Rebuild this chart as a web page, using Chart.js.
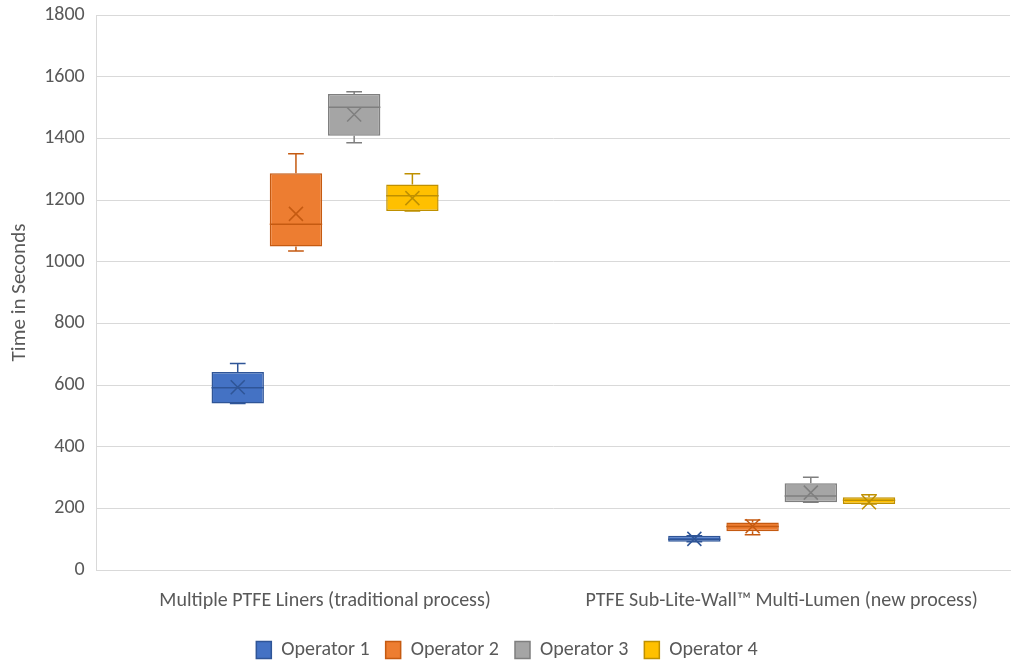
<!DOCTYPE html>
<html>
<head>
    <meta charset="utf-8">
    <title>Box plot</title>
    <style>
        html, body { margin: 0; padding: 0; background: #ffffff; }
        #wrap { width: 1016px; height: 662px; }
    </style>
    <script src="https://cdn.jsdelivr.net/npm/chart.js@4.4.0/dist/chart.umd.min.js"></script>
</head>
<body>
    <div id="wrap"><canvas id="box-chart" width="1016" height="662"></canvas></div>
    <script>
        // categories and series
        const categories = ['Multiple PTFE Liners (traditional process)', 'PTFE Sub-Lite-Wall\u2122 Multi-Lumen (new process)'];
        const operators = ['Operator 1', 'Operator 2', 'Operator 3', 'Operator 4'];

        // box plot stats, one row per operator, one value per category
        const whiskerLow = [[540, 92], [1035, 114], [1386, 220], [1164, 214]];
        const q1 = [[540, 92], [1049, 126], [1408, 220], [1164, 214]];
        const median = [[591, 100], [1121, 141], [1501, 240], [1214, 226]];
        const q3 = [[642, 111], [1287, 154], [1544, 281], [1250, 236]];
        const whiskerHigh = [[670, 111], [1350, 162], [1551, 301], [1285, 244]];
        const mean = [[593, 101], [1155, 142], [1477, 251], [1206, 220]];

        const yTicks = [0, 200, 400, 600, 800, 1000, 1200, 1400, 1600, 1800];

        const fillColors = ['#4472C4', '#ED7D31', '#A5A5A5', '#FFC000'];
        const lineColors = ['#2F5597', '#C55A11', '#7F7F7F', '#BF9000'];

        const textColor = '#595959';
        const fontFamily = 'Carlito, Lato, sans-serif';

        // whiskers, median line and mean X drawn on top of the floating bars
        const boxExtras = {
            id: 'boxExtras',
            afterDatasetsDraw(chart) {
                const ctx = chart.ctx;
                const y = chart.scales.y;
                chart.data.datasets.forEach((ds, i) => {
                    const meta = chart.getDatasetMeta(i);
                    meta.data.forEach((bar, j) => {
                        const x = bar.x;
                        const w = bar.width;
                        const cap = w * 0.15;
                        ctx.save();
                        ctx.strokeStyle = lineColors[i];
                        ctx.lineWidth = 1.5;
                        ctx.beginPath();
                        // upper whisker
                        ctx.moveTo(x, y.getPixelForValue(q3[i][j]));
                        ctx.lineTo(x, y.getPixelForValue(whiskerHigh[i][j]));
                        ctx.moveTo(x - cap, y.getPixelForValue(whiskerHigh[i][j]));
                        ctx.lineTo(x + cap, y.getPixelForValue(whiskerHigh[i][j]));
                        // lower whisker
                        ctx.moveTo(x, y.getPixelForValue(q1[i][j]));
                        ctx.lineTo(x, y.getPixelForValue(whiskerLow[i][j]));
                        ctx.moveTo(x - cap, y.getPixelForValue(whiskerLow[i][j]));
                        ctx.lineTo(x + cap, y.getPixelForValue(whiskerLow[i][j]));
                        // median
                        ctx.moveTo(x - w / 2, y.getPixelForValue(median[i][j]));
                        ctx.lineTo(x + w / 2, y.getPixelForValue(median[i][j]));
                        ctx.stroke();
                        // mean marker
                        const my = y.getPixelForValue(mean[i][j]);
                        const s = 7;
                        ctx.beginPath();
                        ctx.moveTo(x - s, my - s);
                        ctx.lineTo(x + s, my + s);
                        ctx.moveTo(x + s, my - s);
                        ctx.lineTo(x - s, my + s);
                        ctx.stroke();
                        ctx.restore();
                    });
                });
            }
        };

        const datasets = operators.map((name, i) => ({
            label: name,
            data: categories.map((c, j) => [q1[i][j], q3[i][j]]),
            backgroundColor: fillColors[i],
            borderColor: lineColors[i],
            borderWidth: 1.5,
            borderSkipped: false,
            categoryPercentage: 0.51,
            barPercentage: 0.9
        }));

        new Chart(document.getElementById('box-chart'), {
            type: 'bar',
            data: { labels: categories, datasets: datasets },
            plugins: [boxExtras],
            options: {
                responsive: false,
                animation: false,
                layout: { padding: { left: 4, right: 6, top: 0, bottom: -8 } },
                plugins: {
                    tooltip: { enabled: false },
                    legend: {
                        position: 'bottom',
                        labels: {
                            color: textColor,
                            font: { family: fontFamily, size: 20 },
                            boxWidth: 15,
                            boxHeight: 17,
                            padding: 16
                        }
                    }
                },
                scales: {
                    x: {
                        grid: { display: false },
                        border: { color: '#D9D9D9' },
                        ticks: {
                            color: textColor,
                            font: { family: fontFamily, size: 20, lineHeight: 0.8 },
                            padding: 15
                        }
                    },
                    y: {
                        min: 0,
                        max: 1800,
                        afterBuildTicks(axis) {
                            axis.ticks = yTicks.map(v => ({ value: v }));
                        },
                        grid: { color: '#D9D9D9', drawTicks: false },
                        border: { color: '#D9D9D9' },
                        ticks: {
                            color: textColor,
                            font: { family: fontFamily, size: 20, lineHeight: 0.3 },
                            padding: 12,
                            callback: v => String(v)
                        },
                        title: {
                            display: true,
                            text: 'Time in Seconds',
                            color: textColor,
                            font: { family: fontFamily, size: 21 },
                            padding: { top: 3, bottom: 0 }
                        }
                    }
                }
            }
        });
    </script>
</body>
</html>
